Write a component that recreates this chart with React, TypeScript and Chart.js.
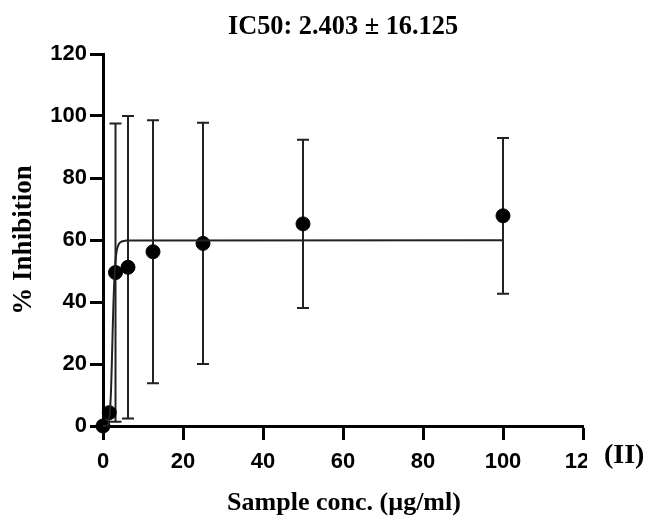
import React, { useEffect, useRef } from "react";
import { Chart, registerables } from "chart.js";

Chart.register(...registerables);

// Measured concentrations (µg/ml)
const concentrations = [0, 1.5625, 3.125, 6.25, 12.5, 25, 50, 100];
// Mean % inhibition
const meanInhibition = [0, 4.3, 49.5, 51.2, 56.2, 58.9, 65.2, 67.8];
// Standard deviation (error bars)
const sdInhibition = [0, 0, 48.1, 48.8, 42.4, 38.9, 27.1, 25.1];

// Fitted curve
const curveX = [0, 1, 1.5, 2, 2.2, 2.4, 2.6, 2.8, 3.0, 3.25, 3.5, 4, 4.5, 5, 6, 8, 100];
const curveY = [0, 0.1, 1.4, 11.2, 19.8, 29.9, 39.0, 46.2, 51.1, 54.9, 57.0, 58.8, 59.4, 59.6, 59.8, 59.85, 59.9];

const xTicks = [0, 20, 40, 60, 80, 100, 120];
const yTicks = [0, 20, 40, 60, 80, 100, 120];

const titleText = "IC50: 2.403 ± 16.125";
const xTitle = "Sample conc. (µg/ml)";
const yTitle = "% Inhibition";
const panelTag = "(II)";

const errorBarPlugin = {
  id: "errorBars",
  beforeDatasetsDraw(chart: any) {
    const { ctx, scales } = chart;
    const xs = scales.x;
    const ys = scales.y;
    ctx.save();
    ctx.strokeStyle = "#222";
    ctx.lineWidth = 2;
    concentrations.forEach((c, i) => {
      const sd = sdInhibition[i];
      if (!sd) return;
      const px = xs.getPixelForValue(c);
      const top = ys.getPixelForValue(meanInhibition[i] + sd);
      const bot = ys.getPixelForValue(meanInhibition[i] - sd);
      ctx.beginPath();
      ctx.moveTo(px, top);
      ctx.lineTo(px, bot);
      ctx.moveTo(px - 6, top);
      ctx.lineTo(px + 6, top);
      ctx.moveTo(px - 6, bot);
      ctx.lineTo(px + 6, bot);
      ctx.stroke();
    });
    ctx.restore();
  },
};

const textPlugin = {
  id: "texts",
  afterDraw(chart: any) {
    const { ctx, chartArea } = chart;
    ctx.save();
    ctx.fillStyle = "#000";
    ctx.textAlign = "center";
    ctx.textBaseline = "middle";
    ctx.save();
    ctx.translate(343, 27);
    ctx.scale(0.94, 1);
    ctx.font = 'bold 28px "Liberation Serif", "Times New Roman", serif';
    ctx.fillText(titleText, 0, 0);
    ctx.restore();
    ctx.font = 'bold 26px "Liberation Serif", "Times New Roman", serif';
    ctx.fillText(xTitle, 344, 503);
    ctx.save();
    ctx.translate(24, (chartArea.top + chartArea.bottom) / 2);
    ctx.rotate(-Math.PI / 2);
    ctx.font = 'bold 27px "Liberation Serif", "Times New Roman", serif';
    ctx.fillText(yTitle, 0, 0);
    ctx.restore();
    ctx.fillStyle = "#fff";
    ctx.fillRect(587, 445, 65, 40);
    ctx.fillStyle = "#000";
    ctx.textAlign = "left";
    ctx.font = 'bold 28px "Liberation Serif", "Times New Roman", serif';
    ctx.fillText(panelTag, 604, 456);
    ctx.restore();
  },
};

export default function App() {
  const ref = useRef<HTMLCanvasElement | null>(null);
  useEffect(() => {
    if (!ref.current) return;
    const tickFont = { family: '"Liberation Sans", Arial, sans-serif', size: 22, weight: "bold" as const };
    const chart = new Chart(ref.current, {
      type: "scatter",
      data: {
        datasets: [
          {
            type: "line",
            label: "fit",
            data: curveX.map((x, i) => ({ x, y: curveY[i] })),
            borderColor: "#222",
            borderWidth: 2,
            pointRadius: 0,
            fill: false,
            cubicInterpolationMode: "monotone",
            clip: false,
          } as any,
          {
            label: "mean",
            data: concentrations.map((x, i) => ({ x, y: meanInhibition[i] })),
            backgroundColor: "#000",
            borderColor: "#000",
            pointRadius: 7,
            pointHoverRadius: 7,
            showLine: false,
            clip: false,
          } as any,
        ],
      },
      options: {
        animation: false,
        responsive: false,
        events: [],
        layout: { padding: { left: 0, top: 54, right: 69, bottom: 0 } },
        plugins: { legend: { display: false }, tooltip: { enabled: false }, title: { display: false } },
        scales: {
          x: {
            type: "linear",
            min: 0,
            max: 120,
            afterBuildTicks: (s: any) => {
              s.ticks = xTicks.map((v) => ({ value: v }));
            },
            ticks: { color: "#000", font: tickFont, padding: 9, maxRotation: 0 },
            grid: { drawOnChartArea: false, drawTicks: true, tickLength: 14, tickWidth: 3, tickColor: "#000" },
            border: { display: true, width: 3, color: "#000" },
            afterFit: (s: any) => {
              s.height = 97;
            },
          },
          y: {
            type: "linear",
            min: 0,
            max: 120,
            afterBuildTicks: (s: any) => {
              s.ticks = yTicks.map((v) => ({ value: v }));
            },
            ticks: { color: "#000", font: tickFont, padding: 3 },
            grid: { drawOnChartArea: false, drawTicks: true, tickLength: 13, tickWidth: 3, tickColor: "#000" },
            border: { display: true, width: 3, color: "#000" },
            afterFit: (s: any) => {
              s.width = 103;
            },
          },
        },
      } as any,
      plugins: [errorBarPlugin, textPlugin],
    });
    return () => chart.destroy();
  }, []);
  return (
    <div style={{ position: "absolute", left: 0, top: 0, width: 652, height: 523, background: "#fff" }}>
      <canvas ref={ref} width={652} height={523} style={{ width: 652, height: 523, display: "block" }} />
    </div>
  );
}
